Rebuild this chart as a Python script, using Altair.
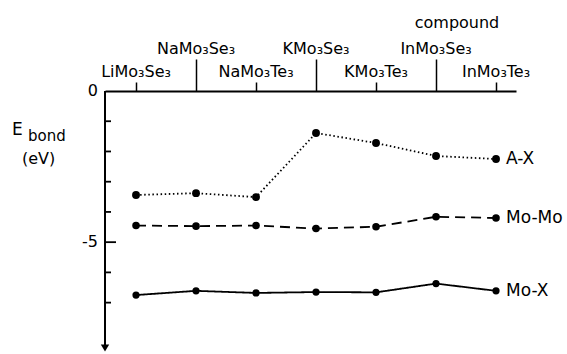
import altair as alt
import pandas as pd

# ---------------- data ----------------
compounds = ["LiMo₃Se₃", "NaMo₃Se₃", "NaMo₃Te₃", "KMo₃Se₃",
             "KMo₃Te₃", "InMo₃Se₃", "InMo₃Te₃"]
label_level = ["low", "high", "low", "high", "low", "high", "low"]

series_names = ["A-X", "Mo-Mo", "Mo-X"]
ax_vals = [-3.44, -3.38, -3.51, -1.39, -1.72, -2.15, -2.25]
momo_vals = [-4.45, -4.47, -4.45, -4.55, -4.49, -4.16, -4.20]
mox_vals = [-6.75, -6.61, -6.68, -6.65, -6.66, -6.37, -6.61]

y_minor_ticks = [-1, -2, -3, -4, -6, -7]
y_major_ticks = [-5]
y_label_values = [0, -5]
y_label_texts = ["0", "-5"]

FONT = "DejaVu Sans"
WIDTH = 411
HEIGHT = 260

rows = []
for name, vals in zip(series_names, [ax_vals, momo_vals, mox_vals]):
    for i, v in enumerate(vals):
        rows.append({"series": name, "idx": i, "E": v})
df = pd.DataFrame(rows)
df_end = df[df["idx"] == len(compounds) - 1]

df_comp = pd.DataFrame({"name": compounds, "idx": list(range(len(compounds))),
                        "level": label_level})

xscale = alt.Scale(domain=[-0.517, 6.333], nice=False, zero=False)
yscale = alt.Scale(domain=[-8.6, 0], nice=False, zero=False)

top_axis = alt.Axis(
    orient="top", values=list(range(len(compounds))), labels=False, title=None,
    grid=False, domainColor="black", domainWidth=2, tickColor="black",
    tickWidth=1.5,
    tickSize={"condition": {"test": "datum.value % 2 == 1", "value": 32}, "value": 9},
)


def X(field="idx:Q"):
    return alt.X(field, scale=xscale, axis=top_axis)


def Y(field="E:Q"):
    return alt.Y(field, scale=yscale, axis=None)


dash_scale = alt.Scale(domain=series_names, range=[[1.5, 2.6], [10, 6], [1, 0]])
size_scale = alt.Scale(domain=series_names, range=[62, 52, 46])

lines = alt.Chart(df).mark_line(color="black", strokeWidth=1.8).encode(
    x=X(), y=Y(),
    strokeDash=alt.StrokeDash("series:N", scale=dash_scale, legend=None),
    detail="series:N",
)

points = alt.Chart(df).mark_circle(color="black", opacity=1).encode(
    x=X(), y=Y(),
    size=alt.Size("series:N", scale=size_scale, legend=None),
)

end_labels = alt.Chart(df_end).mark_text(
    align="left", baseline="middle", dx=10, fontSize=17, font=FONT, color="black"
).encode(x=X(), y=Y(), text="series:N")

top_high = alt.Chart(df_comp).transform_filter("datum.level == 'high'").mark_text(
    align="center", baseline="alphabetic", fontSize=16, font=FONT, color="black"
).encode(x=X(), y=alt.value(-37), text="name:N")

top_low = alt.Chart(df_comp).transform_filter("datum.level == 'low'").mark_text(
    align="center", baseline="alphabetic", fontSize=16, font=FONT, color="black"
).encode(x=X(), y=alt.value(-14), text="name:N")

# energy axis: line, arrow head, labels, inward ticks
y_axis_line = alt.Chart(pd.DataFrame({"a": [1]})).mark_rule(
    color="black", strokeWidth=2
).encode(x=alt.value(0), y=alt.value(0), y2=alt.value(254))

arrow = alt.Chart(pd.DataFrame({"a": [1]})).mark_point(
    shape="triangle-down", filled=True, color="black", opacity=1, size=70
).encode(x=alt.value(0), y=alt.value(257))

ylabels = alt.Chart(pd.DataFrame({"tv": y_label_values, "txt": y_label_texts})).mark_text(
    align="right", baseline="middle", fontSize=16, font=FONT, color="black"
).encode(y=Y("tv:Q"), x=alt.value(-7), text="txt:N")

compound_title = alt.Chart(pd.DataFrame({"t": ["compound"]})).mark_text(
    align="center", baseline="alphabetic", fontSize=16, font=FONT, color="black"
).encode(text="t:N", x=alt.value(352), y=alt.value(-63))

e_lbl = alt.Chart(pd.DataFrame({"t": ["E"]})).mark_text(
    align="left", baseline="alphabetic", fontSize=17, font=FONT, color="black"
).encode(text="t:N", x=alt.value(-93), y=alt.value(44))
bond_lbl = alt.Chart(pd.DataFrame({"t": ["bond"]})).mark_text(
    align="left", baseline="alphabetic", fontSize=15, font=FONT, color="black"
).encode(text="t:N", x=alt.value(-77), y=alt.value(50))
ev_lbl = alt.Chart(pd.DataFrame({"t": ["(eV)"]})).mark_text(
    align="left", baseline="alphabetic", fontSize=16, font=FONT, color="black"
).encode(text="t:N", x=alt.value(-83), y=alt.value(73))

ytick_minor = alt.Chart(pd.DataFrame({"tv": y_minor_ticks})).mark_rule(
    color="black", strokeWidth=1.8
).encode(y=Y("tv:Q"), x=alt.value(0), x2=alt.value(6))

ytick_major = alt.Chart(pd.DataFrame({"tv": y_major_ticks})).mark_rule(
    color="black", strokeWidth=1.8
).encode(y=Y("tv:Q"), x=alt.value(0), x2=alt.value(11))

chart = alt.layer(
    lines, points, end_labels, top_high, top_low,
    y_axis_line, arrow, ylabels,
    compound_title, e_lbl, bond_lbl, ev_lbl, ytick_minor, ytick_major
).properties(
    width=WIDTH, height=HEIGHT,
    padding={"left": 105, "top": 91, "right": 51, "bottom": 3},
    autosize=alt.AutoSizeParams(type="none"),
    background="white",
).configure_view(stroke=None)

chart.save("out.html", embed_options={"renderer": "svg", "actions": False})
